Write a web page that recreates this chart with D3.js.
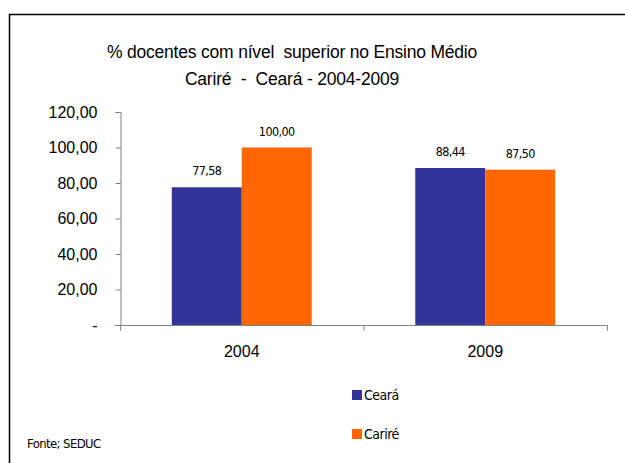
<!DOCTYPE html>
<html><head><meta charset="utf-8">
<script src="https://cdn.jsdelivr.net/npm/d3@7/dist/d3.min.js"></script>
<style>body{margin:0;background:#fff}svg{display:block}</style>
</head><body>
<script>
const categories = ["2004", "2009"];
const seriesNames = ["Ceará", "Cariré"];
const ceara = [77.58, 88.44];
const carire = [100.00, 87.50];
const yTicks = [0, 20, 40, 60, 80, 100, 120];
const colors = ["#333399", "#FF6600"];
const titleLines = ["% docentes com nível  superior no Ensino Médio", "Cariré  -  Ceará - 2004-2009"];
const source = "Fonte; SEDUC";

const W = 625, H = 463;
const svg = d3.select("body").append("svg").attr("width", W).attr("height", H);

// frame
svg.append("path").attr("d", "M9.5,463 V14.5 H625").attr("fill", "none").attr("stroke", "#000").attr("stroke-width", 1.5);

const fmt = v => v === 0 ? "-" : d3.format(".2f")(v).replace(".", ",");

const x0 = d3.scaleBand().domain(categories).range([120, 607]).paddingInner(0).paddingOuter(0);
const x1 = d3.scaleBand().domain(seriesNames).range([0, x0.bandwidth()]).paddingInner(0).paddingOuter(0.74);
const y = d3.scaleLinear().domain([0, 120]).range([325, 112]);

// y axis
const yAxis = d3.axisLeft(y).tickValues(yTicks).tickFormat(fmt).tickSize(5).tickPadding(18);
const ya = svg.append("g").attr("transform", "translate(120.5,0)").call(yAxis);
ya.select(".domain").attr("stroke", "#808080");
ya.selectAll(".tick line").attr("stroke", "#808080");
ya.selectAll("text").attr("font-family", "Liberation Sans, Arial, sans-serif").attr("font-size", 16).attr("fill", "#000");

// bars
const data = categories.map((c, i) => ({ c, vals: [ceara[i], carire[i]] }));
const g = svg.append("g");
const grp = g.selectAll("g").data(data).join("g").attr("transform", d => `translate(${x0(d.c)},0)`);
grp.selectAll("rect").data(d => d.vals.map((v, j) => ({ v, s: seriesNames[j], j })))
  .join("rect")
  .attr("x", d => x1(d.s)).attr("width", x1.bandwidth())
  .attr("y", d => y(d.v)).attr("height", d => y(0) - y(d.v))
  .attr("fill", d => colors[d.j]);
grp.selectAll("text").data(d => d.vals.map((v, j) => ({ v, s: seriesNames[j], j })))
  .join("text")
  .attr("x", d => x1(d.s) + x1.bandwidth() / 2)
  .attr("y", d => y(d.v) - 12)
  .attr("text-anchor", "middle")
  .attr("font-family", "DejaVu Sans Condensed, DejaVu Sans, sans-serif")
  .attr("font-size", 12.5).attr("letter-spacing", -0.6)
  .attr("fill", "#000")
  .text(d => fmt(d.v));

// x axis
const xAxis = d3.axisBottom(x0).tickSize(0).tickPadding(20);
const xa = svg.append("g").attr("transform", "translate(0,325.5)").call(xAxis);
xa.select(".domain").attr("stroke", "#808080").attr("d", "M115,0H607.5");
xa.selectAll("text").attr("font-family", "Liberation Sans, Arial, sans-serif").attr("font-size", 16).attr("fill", "#000");
const boundaries = [x0.range()[0], x0(categories[1]), x0.range()[1]];
xa.selectAll("line.bd").data(boundaries).join("line").attr("class", "bd")
  .attr("x1", d => d + 0.5).attr("x2", d => d + 0.5).attr("y1", 0).attr("y2", 5).attr("stroke", "#808080");

// title
svg.append("g").selectAll("text").data(titleLines).join("text")
  .attr("x", 292).attr("y", (d, i) => 58 + i * 27)
  .attr("text-anchor", "middle")
  .style("white-space", "pre")
  .attr("font-family", "Liberation Sans, Arial, sans-serif")
  .attr("font-size", 17.5).attr("letter-spacing", -0.2).attr("fill", "#000")
  .text(d => d);

// legend
const lg = svg.append("g").selectAll("g").data(seriesNames).join("g")
  .attr("transform", (d, i) => `translate(352,${395 + i * 39})`);
lg.append("rect").attr("x", 0).attr("y", -5).attr("width", 10).attr("height", 10).attr("fill", (d, i) => colors[i]);
lg.append("text").attr("x", 12).attr("y", 5).attr("font-family", "DejaVu Sans Condensed, DejaVu Sans, sans-serif")
  .attr("font-size", 14).attr("letter-spacing", -0.5).attr("fill", "#000").text(d => d);

svg.append("text").attr("x", 27).attr("y", 448)
  .attr("font-family", "DejaVu Sans Condensed, DejaVu Sans, sans-serif")
  .attr("font-size", 13).attr("letter-spacing", -0.6).attr("fill", "#000").text(source);
</script>
</body></html>
